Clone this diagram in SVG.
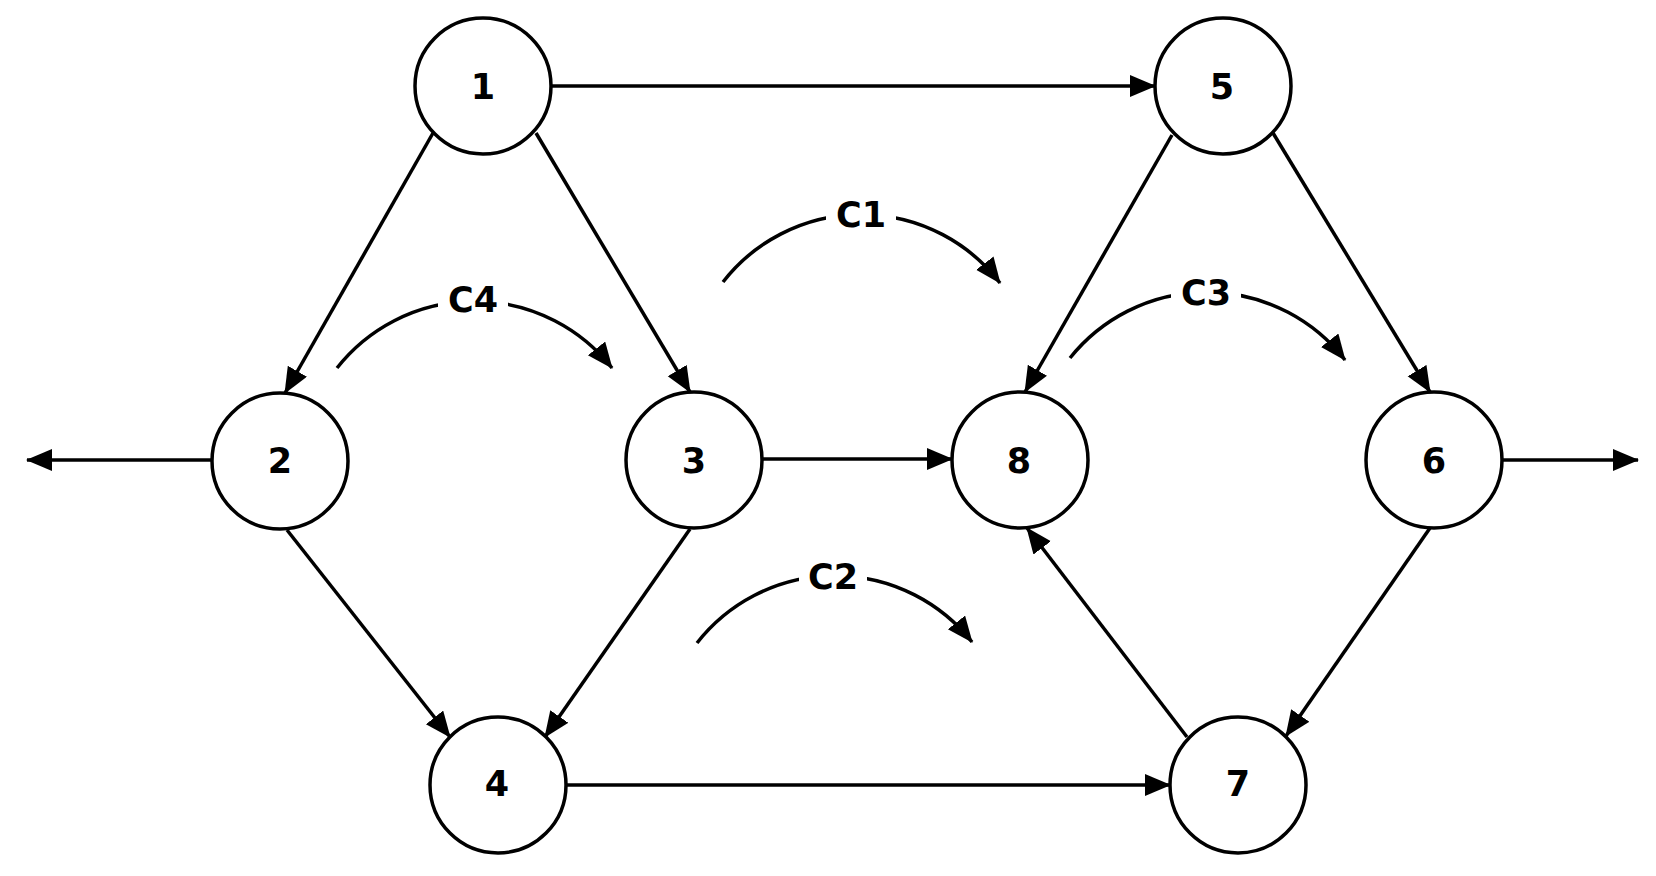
<svg xmlns="http://www.w3.org/2000/svg" width="1656" height="876" viewBox="0 0 1656 876">
<style>
.node circle{fill:#fff;stroke:#000;stroke-width:3.5}
.lbl{font-family:"DejaVu Sans","Liberation Sans",sans-serif;font-size:35px;font-weight:bold;fill:#000;text-anchor:middle;dominant-baseline:central}
.edge{fill:none;stroke:#000;stroke-width:3.5;marker-end:url(#ah)}
.gap{fill:#fff;stroke:none}
</style>
<defs>
<marker id="ah" markerUnits="userSpaceOnUse" markerWidth="30" markerHeight="24" refX="25" refY="11" orient="auto">
<path d="M0,0 L26,11 L0,22 z" fill="#000"/>
</marker>
</defs>
<rect width="1656" height="876" fill="#fff"/>
<g id="connectors">
<line class="edge" x1="552" y1="86" x2="1155" y2="86"/>
<line class="edge" x1="433" y1="133" x2="285" y2="393"/>
<line class="edge" x1="536" y1="133" x2="690" y2="392"/>
<line class="edge" x1="287" y1="530" x2="450" y2="737"/>
<line class="edge" x1="690" y1="529" x2="545" y2="737"/>
<line class="edge" x1="762" y1="459" x2="952" y2="459"/>
<line class="edge" x1="566" y1="785" x2="1170" y2="785"/>
<line class="edge" x1="1172" y1="135" x2="1025" y2="392"/>
<line class="edge" x1="1273" y1="133" x2="1430" y2="392"/>
<line class="edge" x1="1430" y1="528" x2="1286" y2="736"/>
<line class="edge" x1="1187" y1="737" x2="1027" y2="528"/>
<line class="edge" x1="212" y1="460" x2="27" y2="460"/>
<line class="edge" x1="1502" y1="460" x2="1638" y2="460"/>
<path class="edge" d="M337,368 A175,175 0 0 1 612,368"/>
<path class="edge" d="M723,282 A175,175 0 0 1 1000,283"/>
<path class="edge" d="M697,643 A175,175 0 0 1 972,642"/>
<path class="edge" d="M1070,358 A175,175 0 0 1 1345,360"/>
</g>
<g id="label-C4"><rect class="gap" x="438" y="280" width="70" height="40"/><text class="lbl" x="473" y="300">C4</text></g>
<g id="label-C1"><rect class="gap" x="826" y="196" width="70" height="40"/><text class="lbl" x="861" y="215">C1</text></g>
<g id="label-C2"><rect class="gap" x="799" y="557" width="68" height="40"/><text class="lbl" x="833" y="577">C2</text></g>
<g id="label-C3"><rect class="gap" x="1171" y="273" width="70" height="40"/><text class="lbl" x="1206" y="293">C3</text></g>
<g id="node1" class="node"><circle cx="483" cy="86" r="68"/><text class="lbl" x="483" y="87">1</text></g>
<g id="node2" class="node"><circle cx="280" cy="461" r="68"/><text class="lbl" x="280" y="461">2</text></g>
<g id="node3" class="node"><circle cx="694" cy="460" r="68"/><text class="lbl" x="694" y="461">3</text></g>
<g id="node4" class="node"><circle cx="498" cy="785" r="68"/><text class="lbl" x="497" y="784">4</text></g>
<g id="node5" class="node"><circle cx="1223" cy="86" r="68"/><text class="lbl" x="1222" y="87">5</text></g>
<g id="node6" class="node"><circle cx="1434" cy="460" r="68"/><text class="lbl" x="1434" y="461">6</text></g>
<g id="node7" class="node"><circle cx="1238" cy="785" r="68"/><text class="lbl" x="1238" y="784">7</text></g>
<g id="node8" class="node"><circle cx="1020" cy="460" r="68"/><text class="lbl" x="1019" y="461">8</text></g>
</svg>
